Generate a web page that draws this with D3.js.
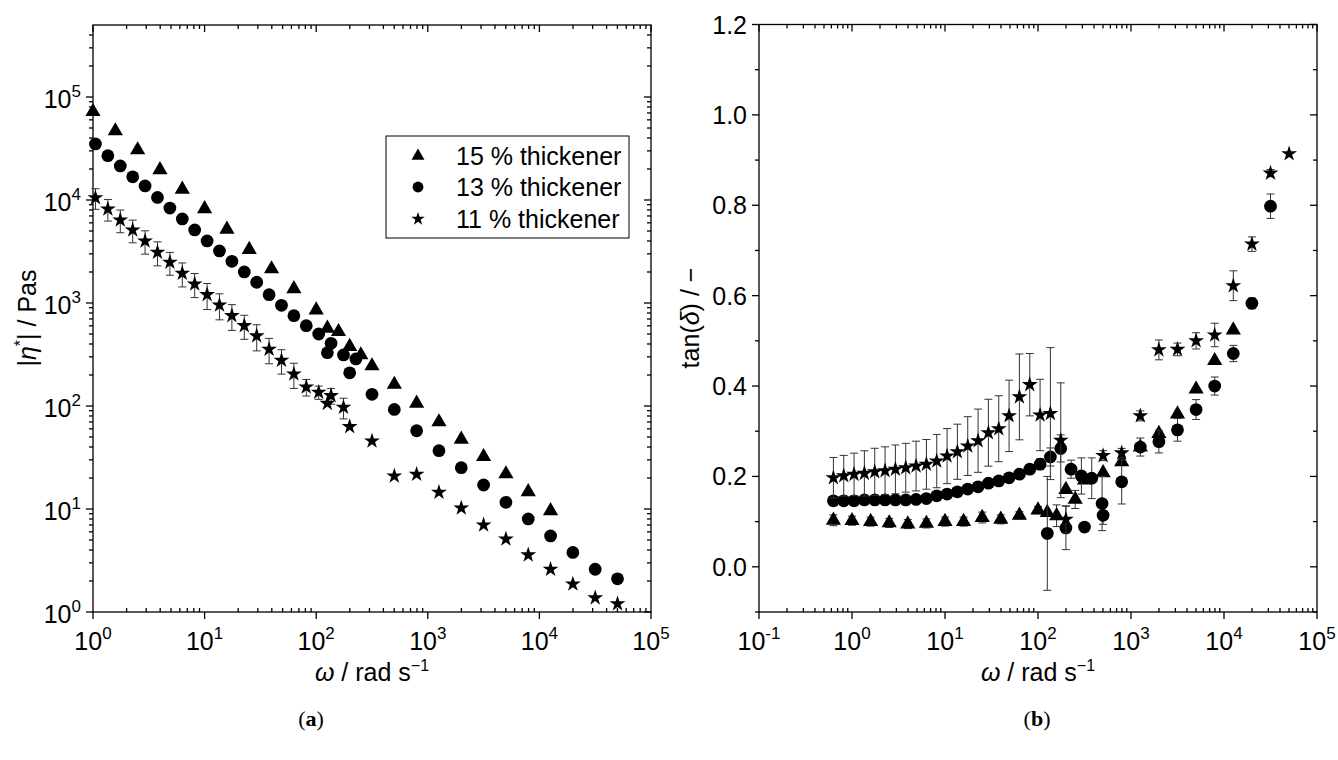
<!DOCTYPE html>
<html>
<head>
<meta charset="utf-8">
<script src="https://cdn.jsdelivr.net/npm/d3@7"></script>
<style>
  body { margin: 0; background: #fff; }
  text { font-family: "Liberation Sans", Arial, sans-serif; fill: #000; }
</style>
</head>
<body>
<svg width="1338" height="760"></svg>
<script>
// angular frequencies (rad/s)
const wLow5 = [0.631, 1, 1.585, 2.512, 3.981, 6.310, 10, 15.85, 25.12, 39.81, 63.10, 100, 158.5, 251.2];
const wLow9 = [0.631, 0.815, 1.052, 1.359, 1.756, 2.268, 2.929, 3.783, 4.886, 6.310, 8.150, 10.53, 13.59,
               17.56, 22.68, 29.29, 37.83, 48.86, 63.10, 81.50, 105.3, 135.9, 175.6, 226.8, 292.9, 378.3, 488.6];
const wHigh = [125.9, 199.5, 316.2, 501.2, 794.3, 1259, 1995, 3162, 5012, 7943, 12589, 19953, 31623, 50119];

const seriesNames = ["15 % thickener", "13 % thickener", "11 % thickener"];

// (a) complex viscosity |eta*| in Pas
const etaTriLow = [null, 72000, 46800, 30600, 19600, 12700, 8200, 5200, 3300, 2140, 1375, 855, 526, 313];
const etaTriHigh = [568, 377, 245, 162, 106, 70, 47.5, 32.2, 21.9, 14.7, 9.6, null, null, null];
const etaCirLow = [null, null, 35000, 26900, 21400, 16800, 13700, 10600, 8360, 6540, 5120, 4000, 3200, 2540,
                   2000, 1590, 1205, 950, 753, 602, 500, 406, 313, 286, null, null, null];
const etaCirHigh = [329, 210, 130, 92.7, 57.5, 36.8, 25.2, 17.1, 11.6, 8.0, 5.47, 3.79, 2.6, 2.1];
const etaStarLow = [null, null, 10500, 8180, 6400, 5110, 4000, 3110, 2480, 1940, 1530, 1205, 957, 753,
                    602, 479, 355, 278, 204, 153, 136, 126, 97, null, null, null, null];
const etaStarLowErr = [null, null, 2380, 1940, 1590, 1270, 1020, 815, 620, 508, 401, 341, 271, 211,
                       158, 136, 98, 74, 56, 28, 20, 22, 22, null, null, null, null];
const etaStarHigh = [106, 63, 45.7, 20.9, 21.7, 14.5, 10.2, 7.0, 5.11, 3.58, 2.6, 1.87, 1.37, 1.2];

// (b) loss factor tan(delta)
const tanTriLow = [0.103, 0.102, 0.100, 0.097, 0.0945, 0.096, 0.100, 0.100, 0.109, 0.105, 0.114, 0.1255, 0.113, 0.149];
const tanTriLowErr = [0.012, 0.01, 0.01, 0.01, 0.01, 0.01, 0.01, 0.01, 0.012, 0.01, 0.008, 0.008, 0.024, 0.02];
const tanTriHigh = [0.12, 0.171, 0.192, 0.208, 0.232, 0.265, 0.295, 0.338, 0.393, 0.456, 0.524, null, null, null];
const tanCirLow = [0.146, 0.146, 0.146, 0.148, 0.148, 0.148, 0.148, 0.148, 0.149, 0.151, 0.157, 0.161, 0.166, 0.172,
                   0.177, 0.185, 0.19, 0.197, 0.205, 0.216, 0.227, 0.243, 0.262, 0.216, 0.201, 0.196, 0.14];
const tanCirLowErr = [0.006, 0.006, 0.006, 0.006, 0.006, 0.006, 0.006, 0.006, 0.006, 0.006, 0.006, 0.006, 0.006, 0.006,
                      0.006, 0.006, 0.006, 0.006, 0.008, 0.01, 0.012, 0.02, 0.03, 0.02, 0.04, 0.045, 0.06];
const tanCirHigh = [0.074, 0.086, 0.088, 0.114, 0.188, 0.265, 0.277, 0.303, 0.348, 0.40, 0.472, 0.583, 0.798, null];
const tanCirHighErr = [0.126, 0.048, 0.005, 0.02, 0.049, 0.02, 0.025, 0.025, 0.022, 0.02, 0.018, 0.012, 0.027, null];
const tanStarLow = [0.197, 0.2015, 0.2045, 0.2067, 0.2103, 0.2125, 0.2156, 0.2192, 0.223, 0.2267, 0.234, 0.245, 0.2546,
                    0.2672, 0.279, 0.2967, 0.3055, 0.334, 0.376, 0.403, 0.336, 0.339, 0.28, null, null, null, null];
const tanStarLowErr = [0.045, 0.045, 0.047, 0.05, 0.052, 0.053, 0.054, 0.054, 0.055, 0.055, 0.059, 0.061, 0.061,
                       0.065, 0.07, 0.074, 0.073, 0.079, 0.095, 0.069, 0.079, 0.146, 0.127, null, null, null, null];
const tanStarHigh = [null, 0.105, null, 0.246, 0.252, 0.334, 0.48, 0.481, 0.50, 0.513, 0.622, 0.714, 0.871, 0.914];
const tanStarHighErr = [null, 0.03, null, 0.011, 0.01, 0.011, 0.022, 0.014, 0.018, 0.026, 0.033, 0.016, 0.008, null];

// tick labels
const xTicksA = [1, 10, 100, 1000, 10000, 100000];
const yTicksA = [1, 10, 100, 1000, 10000, 100000];
const xTicksB = [0.1, 1, 10, 100, 1000, 10000, 100000];
const yTicksB = [0.0, 0.2, 0.4, 0.6, 0.8, 1.0, 1.2];

const svg = d3.select("svg");

const symTri = d3.symbol().type(d3.symbolTriangle).size(100);
const symCir = d3.symbol().type(d3.symbolCircle).size(128);
const symStar = d3.symbol().type(d3.symbolStar).size(78);

function zip(ws, vals, errs) {
    let out = [];
    ws.forEach((w, i) => {
        if (vals[i] != null) out.push({w: w, v: vals[i], e: errs ? errs[i] : null});
    });
    return out;
}

// minor ticks for a log axis
function logMinor(scale) {
    const [a, b] = scale.domain();
    let out = [];
    for (let p = Math.floor(Math.log10(a)); p <= Math.ceil(Math.log10(b)); p++) {
        for (let m = 2; m <= 9; m++) {
            const v = m * Math.pow(10, p);
            if (v > a * 1.0001 && v < b * 0.9999) out.push(v);
        }
    }
    return out;
}

function powLabel(sel, d) {
    const e = Math.round(Math.log10(d));
    sel.append("tspan").text("10");
    sel.append("tspan").attr("dy", -11).attr("font-size", 17).text(e);
}

function drawFrame(g, x, y, xMajor, xMinor, yMajor, yMinor, xFmt, yFmt, yLabelDy) {
    const [x0, x1] = x.range();
    const [y0, y1] = y.range(); // y0 bottom, y1 top
    const ax = g.append("g").attr("stroke", "#000").attr("stroke-width", 1.3);

    ax.append("rect")
        .attr("x", x0).attr("y", y1)
        .attr("width", x1 - x0).attr("height", y0 - y1)
        .attr("fill", "none");

    // bottom + top
    xMajor.forEach(v => {
        ax.append("line").attr("x1", x(v)).attr("x2", x(v)).attr("y1", y0).attr("y2", y0 + 7);
        ax.append("line").attr("x1", x(v)).attr("x2", x(v)).attr("y1", y1).attr("y2", y1 + 7);
    });
    xMinor.forEach(v => {
        ax.append("line").attr("x1", x(v)).attr("x2", x(v)).attr("y1", y0).attr("y2", y0 - 4);
        ax.append("line").attr("x1", x(v)).attr("x2", x(v)).attr("y1", y1).attr("y2", y1 + 4);
    });
    // left + right
    yMajor.forEach(v => {
        ax.append("line").attr("x1", x0).attr("x2", x0 - 7).attr("y1", y(v)).attr("y2", y(v));
        ax.append("line").attr("x1", x1).attr("x2", x1 - 7).attr("y1", y(v)).attr("y2", y(v));
    });
    yMinor.forEach(v => {
        ax.append("line").attr("x1", x0).attr("x2", x0 - 4).attr("y1", y(v)).attr("y2", y(v));
        ax.append("line").attr("x1", x1).attr("x2", x1 - 4).attr("y1", y(v)).attr("y2", y(v));
    });

    g.selectAll(".xlab").data(xMajor).enter().append("text")
        .attr("x", d => x(d)).attr("y", y0 + 38)
        .attr("text-anchor", "middle").attr("font-size", 25)
        .each(function (d) { xFmt(d3.select(this), d); });

    g.selectAll(".ylab").data(yMajor).enter().append("text")
        .attr("x", x0 - 12).attr("y", d => y(d) + yLabelDy)
        .attr("text-anchor", "end").attr("font-size", 25)
        .each(function (d) { yFmt(d3.select(this), d); });
}

function drawSeries(g, x, y, pts, sym) {
    const withErr = pts.filter(p => p.e);
    const eb = g.append("g").attr("stroke", "#333").attr("stroke-width", 1).attr("fill", "none");
    withErr.forEach(p => {
        const cx = x(p.w), ya = y(p.v + p.e), yb = y(p.v - p.e);
        eb.append("line").attr("x1", cx).attr("x2", cx).attr("y1", ya).attr("y2", yb);
        eb.append("line").attr("x1", cx - 4).attr("x2", cx + 4).attr("y1", ya).attr("y2", ya);
        eb.append("line").attr("x1", cx - 4).attr("x2", cx + 4).attr("y1", yb).attr("y2", yb);
    });
    g.append("g").selectAll("path").data(pts).enter().append("path")
        .attr("d", sym)
        .attr("transform", d => `translate(${x(d.w)},${y(d.v)})`)
        .attr("fill", "#000");
}

function xTitle(g, cx) {
    const t = g.append("text").attr("x", cx).attr("y", 681).attr("text-anchor", "middle").attr("font-size", 25);
    t.append("tspan").attr("font-style", "italic").text("ω");
    t.append("tspan").text(" / rad s");
    t.append("tspan").attr("dy", -10).attr("font-size", 16).text("−1");
}

// ---------- panel (a) ----------
const xa = d3.scaleLog().domain([1, 1e5]).range([93, 651]);
const ya = d3.scaleLog().domain([1, 5e5]).range([612, 25]);
const ga = svg.append("g");

drawFrame(ga, xa, ya, xTicksA, logMinor(xa), yTicksA, logMinor(ya),
    powLabel, powLabel, 11);

drawSeries(ga, xa, ya, zip(wLow5, etaTriLow).concat(zip(wHigh, etaTriHigh)), symTri);
drawSeries(ga, xa, ya, zip(wLow9, etaCirLow).concat(zip(wHigh, etaCirHigh)), symCir);
drawSeries(ga, xa, ya, zip(wLow9, etaStarLow, etaStarLowErr).concat(zip(wHigh, etaStarHigh)), symStar);

xTitle(ga, 372);

const yA = ga.append("text").attr("transform", "translate(36,318) rotate(-90)")
    .attr("text-anchor", "middle").attr("font-size", 25);
yA.append("tspan").text("|");
yA.append("tspan").attr("font-style", "italic").text("η");
yA.append("tspan").attr("dy", -10).attr("font-size", 16).text("*");
yA.append("tspan").attr("dy", 10).text("| / Pas");

// legend
const leg = ga.append("g");
leg.append("rect").attr("x", 386).attr("y", 136).attr("width", 243).attr("height", 102)
    .attr("fill", "#fff").attr("stroke", "#000").attr("stroke-width", 1);
const legSyms = [symTri, symCir, symStar];
const legRows = [156, 187, 219];
seriesNames.forEach((name, i) => {
    leg.append("path").attr("d", legSyms[i]).attr("fill", "#000")
        .attr("transform", `translate(418,${legRows[i]}) scale(0.85)`);
    leg.append("text").attr("x", 456).attr("y", legRows[i] + 9).attr("font-size", 25).text(name);
});

// ---------- panel (b) ----------
const xb = d3.scaleLog().domain([0.1, 1e5]).range([759, 1317]);
const yb = d3.scaleLinear().domain([-0.1, 1.2]).range([612, 24.5]);
const gb = svg.append("g");

const yMinorB = d3.range(-0.1, 1.2, 0.2).map(v => Math.round(v * 10) / 10);
drawFrame(gb, xb, yb, xTicksB, logMinor(xb), yTicksB, yMinorB,
    powLabel, (s, d) => s.text(d3.format(".1f")(d)), 9);

drawSeries(gb, xb, yb, zip(wLow5, tanTriLow, tanTriLowErr).concat(zip(wHigh, tanTriHigh)), symTri);
drawSeries(gb, xb, yb, zip(wLow9, tanCirLow, tanCirLowErr).concat(zip(wHigh, tanCirHigh, tanCirHighErr)), symCir);
drawSeries(gb, xb, yb, zip(wLow9, tanStarLow, tanStarLowErr).concat(zip(wHigh, tanStarHigh, tanStarHighErr)), symStar);

xTitle(gb, 1038);

const yB = gb.append("text").attr("transform", "translate(699,318) rotate(-90)")
    .attr("text-anchor", "middle").attr("font-size", 25);
yB.append("tspan").text("tan(");
yB.append("tspan").attr("font-style", "italic").text("δ");
yB.append("tspan").text(") / −");

// sub-captions
[["a", 311], ["b", 1037]].forEach(([c, cx]) => {
    const t = svg.append("text").attr("x", cx).attr("y", 726).attr("text-anchor", "middle")
        .attr("font-size", 22).style("font-family", "'Liberation Serif', serif");
    t.append("tspan").text("(");
    t.append("tspan").attr("font-weight", "bold").text(c);
    t.append("tspan").text(")");
});
</script>
</body>
</html>
